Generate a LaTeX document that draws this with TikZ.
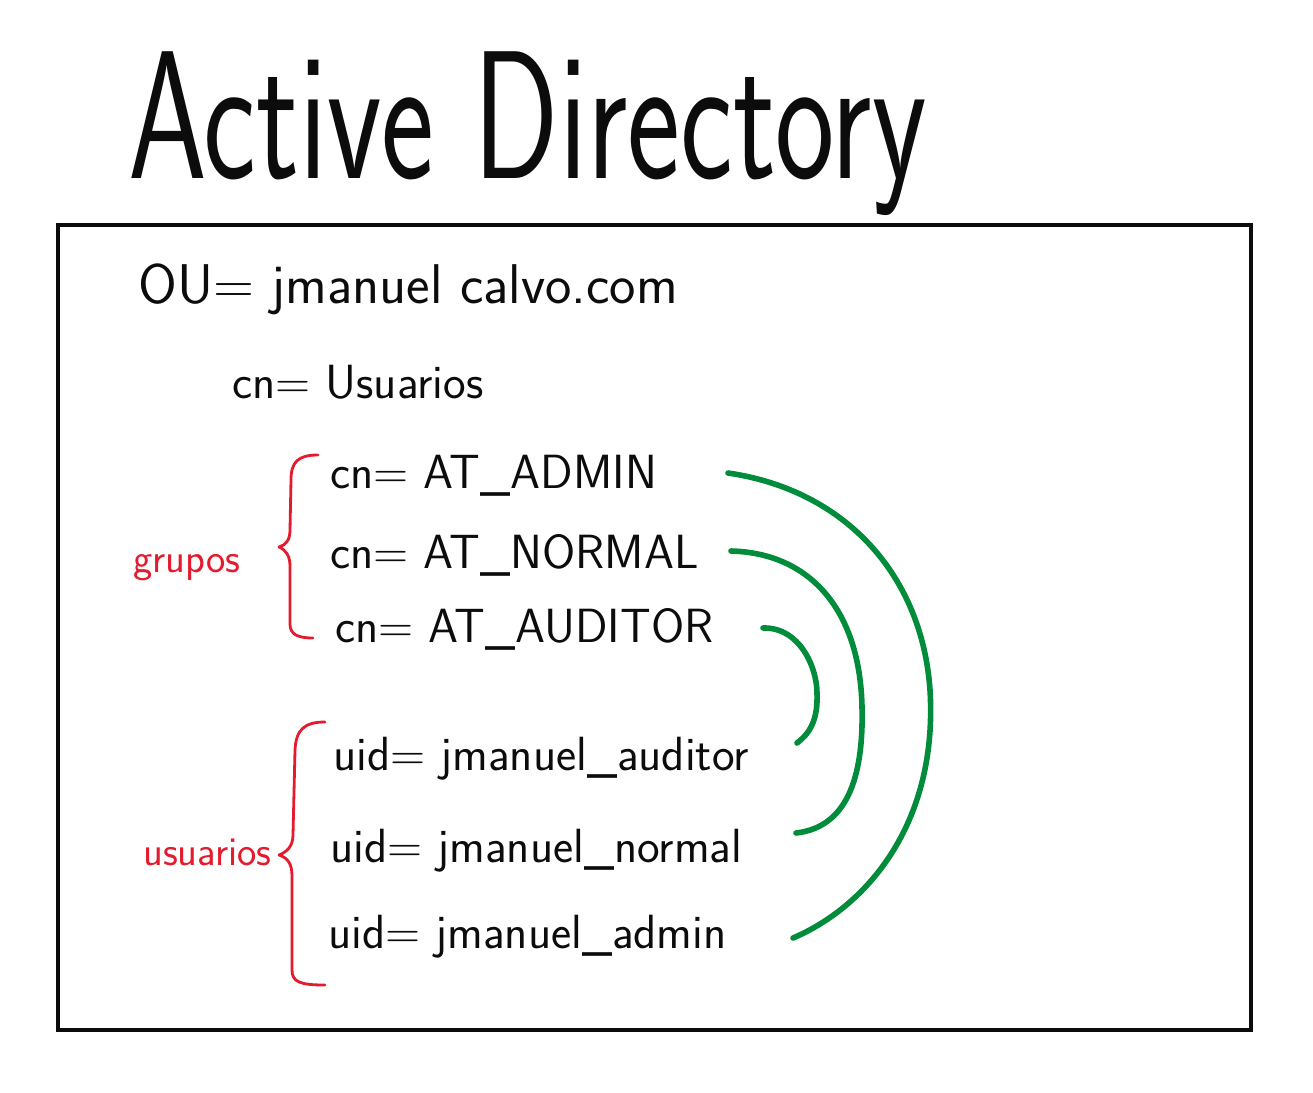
\documentclass[tikz,border=0pt]{standalone}
\usepackage{tikz}
\usetikzlibrary{positioning}
\definecolor{inkpen}{RGB}{12,12,12}
\definecolor{redpen}{RGB}{228,26,46}
\definecolor{greenpen}{RGB}{0,140,58}
\begin{document}
\begin{tikzpicture}[x=1pt,y=-1pt,font=\sffamily,
  entry/.style={anchor=base west,inner sep=0pt,text=inkpen,font=\sffamily\fontsize{48}{52}\selectfont},
  tag/.style={anchor=base west,inner sep=0pt,text=redpen,font=\sffamily\fontsize{41}{44}\selectfont},
  curl/.style={redpen,line width=2.8pt,line cap=round,line join=round},
  member/.style={greenpen,line width=5.6pt,line cap=round}]
  \useasboundingbox (0,0) rectangle (1313,1092);
  % title and frame
  \node[anchor=base west,inner sep=0pt,text=inkpen] (title) at (128,178)
    {\scalebox{1}[1.45]{\fontsize{126}{130}\selectfont Active Directory}};
  \draw[inkpen,line width=3.4pt] (58,225) rectangle (1251,1030);
  \node[entry,font=\sffamily\fontsize{56}{60}\selectfont] (ou) at (138,303) {OU= jmanuel calvo.com};
  \node[entry] (usr) at (232,398) {cn= Usuarios};
  % groups
  \foreach \nm/\x/\y/\txt in {gadmin/330/488/AT\_ADMIN, gnormal/330/568/AT\_NORMAL, gaudit/335/642/AT\_AUDITOR}{
    \node[entry] (\nm) at (\x,\y) {cn= \txt};
  }
  % users
  \foreach \nm/\x/\y/\txt in {uaudit/333/770/jmanuel\_auditor, unormal/330/862/jmanuel\_normal, uadmin/328/948/jmanuel\_admin}{
    \node[entry] (\nm) at (\x,\y) {uid= \txt};
  }
  % red braces
  \node[tag] (grp) at (133,572) {grupos};
  \draw[curl] (318,455) .. controls (298,455) and (291,462) .. (291,480) -- (290,530)
    .. controls (290,540) and (286,545) .. (279,547) .. controls (286,550) and (290,556) .. (290,566)
    -- (290,624) .. controls (290,634) and (297,638) .. (313,638);
  \node[tag] (usrs) at (143,865) {usuarios};
  \draw[curl] (325,722) .. controls (304,722) and (296,730) .. (295,750) -- (293,835)
    .. controls (293,846) and (287,852) .. (279,855) .. controls (288,858) and (292,864) .. (292,876)
    -- (292,970) .. controls (292,982) and (300,985) .. (325,985);
  % green links
  \coordinate (o1) at (728,473);
  \coordinate (o2) at (793,938);
  \coordinate (m1) at (731,551);
  \coordinate (m2) at (796,833);
  \coordinate (i1) at (763,628);
  \coordinate (i2) at (797,743);
  \draw[member] (o1) .. controls (845,490) and (922,575) .. (930,690)
    .. controls (938,820) and (870,905) .. (o2);
  \draw[member] (m1) .. controls (810,553) and (860,610) .. (862,707)
    .. controls (864,790) and (840,828) .. (m2);
  \draw[member] (i1) .. controls (800,627) and (817,668) .. (817,693)
    .. controls (818,720) and (810,733) .. (i2);
\end{tikzpicture}
\end{document}
